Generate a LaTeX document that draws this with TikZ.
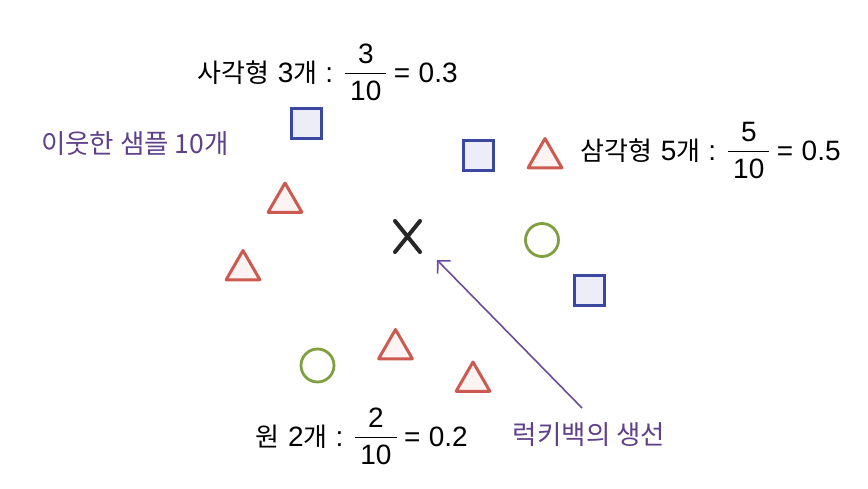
\documentclass[tikz,border=0pt]{standalone}
\usepackage{fontspec}
\setmainfont{Liberation Sans}
\newfontfamily\hg{Noto Sans CJK KR}
\usetikzlibrary{shapes.geometric,shapes.misc,arrows.meta}
\definecolor{sqblue}{HTML}{3A48A0}
\definecolor{sqfill}{HTML}{EDEDF8}
\definecolor{trired}{HTML}{CC5A50}
\definecolor{trifill}{HTML}{FDF3F2}
\definecolor{cgreen}{HTML}{7FA040}
\definecolor{hpurple}{HTML}{5F4189}
\definecolor{apurple}{HTML}{6A4C9C}
\newcommand{\myfr}[2]{\raisebox{-18pt}{\vbox{\halign{\hskip5pt\hfil##\hfil\hskip5pt\cr #1\cr\noalign{\kern9pt\hrule height 1pt\kern6.5pt}#2\cr}}}}
\newcommand{\hgt}[1]{{\hg\fontsize{26}{30}\selectfont #1}}
\newcommand{\ratiotext}[5]{\hgt{#1}\hspace{9pt}#2\hgt{개}\hspace{8pt}:\hspace{12pt}\myfr{#3}{#4}\hspace{7.5pt}=\hspace{8.5pt}#5}
\tikzset{
  lab/.style={inner sep=0pt, font=\fontsize{28}{32}\selectfont, anchor=base west},
  hand/.style={inner sep=0pt, text=hpurple, font=\hg\fontsize{26.5}{30}\selectfont},
  sq/.style={rectangle, draw=sqblue, fill=sqfill, line width=3pt, minimum size=30pt, inner sep=0pt},
  tri/.style={regular polygon, regular polygon sides=3, draw=trired, fill=trifill, line width=3pt, line join=round, minimum size=39pt, inner sep=0pt},
  cir/.style={circle, draw=cgreen, fill=white, line width=2.8pt, minimum size=33pt, inner sep=0pt},
  xmark/.style={cross out, draw=black!85, line width=4pt, line cap=round, minimum width=21pt, minimum height=27pt, inner sep=0pt},
  conn/.style={draw=apurple, line width=1.6pt, -{Straight Barb[length=9pt,width=18pt]}}
}
\begin{document}
\begin{tikzpicture}[x=1pt,y=-1pt]
\useasboundingbox (0,0) rectangle (868,488);
% labels
\node[lab] (sqlab) at (197,82) {\ratiotext{사각형}{3}{3}{10}{0.3}};
\node[lab] (trilab) at (580,160) {\ratiotext{삼각형}{5}{5}{10}{0.5}};
\node[lab] (cirlab) at (255,446) {\ratiotext{원}{2}{2}{10}{0.2}};
\node[hand] (neigh) at (135,144) {이웃한 샘플 10개};
\node[hand] (lucky) at (589,435) {럭키백의 생선};
% squares
\node[sq] (s1) at (306,123) {};
\node[sq] (s2) at (478.5,155) {};
\node[sq] (s3) at (589,290.5) {};
% triangles
\node[tri] (t1) at (545,158) {};
\node[tri] (t2) at (285,202.5) {};
\node[tri] (t3) at (243,270) {};
\node[tri] (t4) at (395.5,349) {};
\node[tri] (t5) at (473,381.5) {};
% circles
\node[cir] (c1) at (317.5,365.5) {};
\node[cir] (c2) at (542,240) {};
% query point
\node[xmark] (xq) at (407.5,236.5) {};
% arrow
\coordinate (atail) at (582,408);
\coordinate (ahead) at (437,260);
\draw[conn] (atail) -- (ahead);
\end{tikzpicture}
\end{document}
